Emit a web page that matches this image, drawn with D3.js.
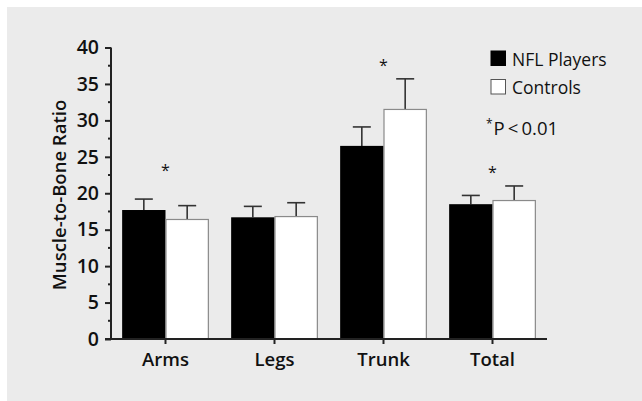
<!DOCTYPE html>
<html>
<head>
<meta charset="utf-8">
<script src="https://cdn.jsdelivr.net/npm/d3@7"></script>
<style>
  body { margin: 0; background: #fff; }
  svg { display: block; }
  text { font-family: "Open Sans", "Noto Sans", sans-serif; fill: #111; }
</style>
</head>
<body>
<svg width="642" height="401"></svg>
<script>
var categories = ["Arms", "Legs", "Trunk", "Total"]
var groups = ["NFL Players", "Controls"]
var nflMeans = [17.7, 16.7, 26.5, 18.5]
var nflErrors = [1.5, 1.5, 2.6, 1.2]
var controlMeans = [16.4, 16.8, 31.5, 19.0]
var controlErrors = [1.9, 1.9, 4.2, 2.0]
var significant = ["Arms", "Trunk", "Total"]
var yTicks = [0, 5, 10, 15, 20, 25, 30, 35, 40]

var svg = d3.select("svg")

svg.append("rect")
    .attr("x", 7).attr("y", 7)
    .attr("width", 642).attr("height", 401)
    .attr("fill", "#ebebeb")

var x = d3.scaleBand().domain(categories).range([111, 547])
var xInner = d3.scaleBand().domain(groups).range([0, x.bandwidth()]).paddingOuter(0.257)
var y = d3.scaleLinear().domain([0, 40]).range([339, 47.5])

var fills = { "NFL Players": "#000", "Controls": "#fff" }
var strokes = { "NFL Players": "#000", "Controls": "#8a8a8a" }

var rows = []
categories.forEach(function (c, i) {
  rows.push({ cat: c, group: groups[0], mean: nflMeans[i], err: nflErrors[i] })
  rows.push({ cat: c, group: groups[1], mean: controlMeans[i], err: controlErrors[i] })
})

// error bars (drawn first so the bar covers the base)
var err = svg.append("g").attr("stroke", "#333").attr("stroke-width", 1.6)
rows.forEach(function (d) {
  var cx = x(d.cat) + xInner(d.group) + xInner.bandwidth() / 2
  err.append("line")
      .attr("x1", cx).attr("x2", cx)
      .attr("y1", y(d.mean)).attr("y2", y(d.mean + d.err))
  err.append("line")
      .attr("x1", cx - 9).attr("x2", cx + 9)
      .attr("y1", y(d.mean + d.err)).attr("y2", y(d.mean + d.err))
})

svg.append("g").selectAll("rect")
  .data(rows)
  .join("rect")
    .attr("x", function (d) { return x(d.cat) + xInner(d.group) + (d.group == "Controls" ? 0.5 : 0) })
    .attr("y", function (d) { return y(d.mean) })
    .attr("width", function (d) { return xInner.bandwidth() - (d.group == "Controls" ? 1 : 0) })
    .attr("height", function (d) { return y(0) - y(d.mean) })
    .attr("fill", function (d) { return fills[d.group] })
    .attr("stroke", function (d) { return strokes[d.group] })
    .attr("stroke-width", function (d) { return d.group == "Controls" ? 1.2 : 0 })

// asterisks above significant pairs
svg.append("g").selectAll("text")
  .data(significant)
  .join("text")
    .attr("x", function (d) { return x(d) + x.bandwidth() / 2 })
    .attr("y", function (d) {
      var i = categories.indexOf(d)
      var top = Math.max(nflMeans[i] + nflErrors[i], controlMeans[i] + controlErrors[i])
      return d == "Arms" ? 176 : y(top) - 8
    })
    .attr("text-anchor", "middle")
    .style("font-size", "16px")
    .text("*")

// y axis
var yAxis = svg.append("g")
    .attr("transform", "translate(111,0)")
    .call(d3.axisLeft(y).tickValues(yTicks).tickSize(6).tickPadding(6))
yAxis.select(".domain").attr("stroke", "#222").attr("stroke-width", 2)
    .attr("d", "M0," + y(40) + "V" + y(0))
yAxis.selectAll(".tick line").attr("stroke", "#222").attr("stroke-width", 2)
yAxis.selectAll(".tick text")
    .style("font-size", "19.5px").style("font-weight", "600").attr("fill", "#111")

var minor = d3.range(2.5, 40, 5)
yAxis.selectAll(".minor")
  .data(minor)
  .join("line")
    .attr("x1", -3).attr("x2", 0)
    .attr("y1", function (d) { return y(d) }).attr("y2", function (d) { return y(d) })
    .attr("stroke", "#222").attr("stroke-width", 2)

// x axis
var xAxis = svg.append("g")
    .attr("transform", "translate(0,339)")
    .call(d3.axisBottom(x).tickSize(5).tickPadding(9))
xAxis.select(".domain").attr("stroke", "#222").attr("stroke-width", 2)
    .attr("d", "M105,0H547")
xAxis.selectAll(".tick line").attr("stroke", "#222").attr("stroke-width", 2)
xAxis.selectAll(".tick text")
    .style("font-size", "18.5px").style("font-weight", "600").attr("fill", "#111")

svg.append("text")
    .attr("transform", "translate(66,195) rotate(-90)")
    .attr("text-anchor", "middle")
    .style("font-size", "18.5px").style("font-weight", "600")
    .text("Muscle-to-Bone Ratio")

// legend
var legend = svg.append("g").selectAll("g")
  .data(groups)
  .join("g")
    .attr("transform", function (d, i) { return "translate(491," + (51 + i * 28.5) + ")" })
legend.append("rect")
    .attr("width", 14.5).attr("height", 14.5)
    .attr("fill", function (d) { return fills[d] })
    .attr("stroke", function (d) { return d == "Controls" ? "#555" : "#000" })
    .attr("stroke-width", 1)
legend.append("text")
    .attr("x", 21).attr("y", 14.5)
    .style("font-size", "17.5px")
    .text(function (d) { return d })

var note = svg.append("text").attr("x", 486).attr("y", 135).style("font-size", "18.5px")
note.append("tspan").attr("dy", -7).style("font-size", "12px").text("*")
note.append("tspan").attr("dy", 7).attr("dx", 1).text("P\u2009<\u20090.01")
</script>
</body>
</html>
